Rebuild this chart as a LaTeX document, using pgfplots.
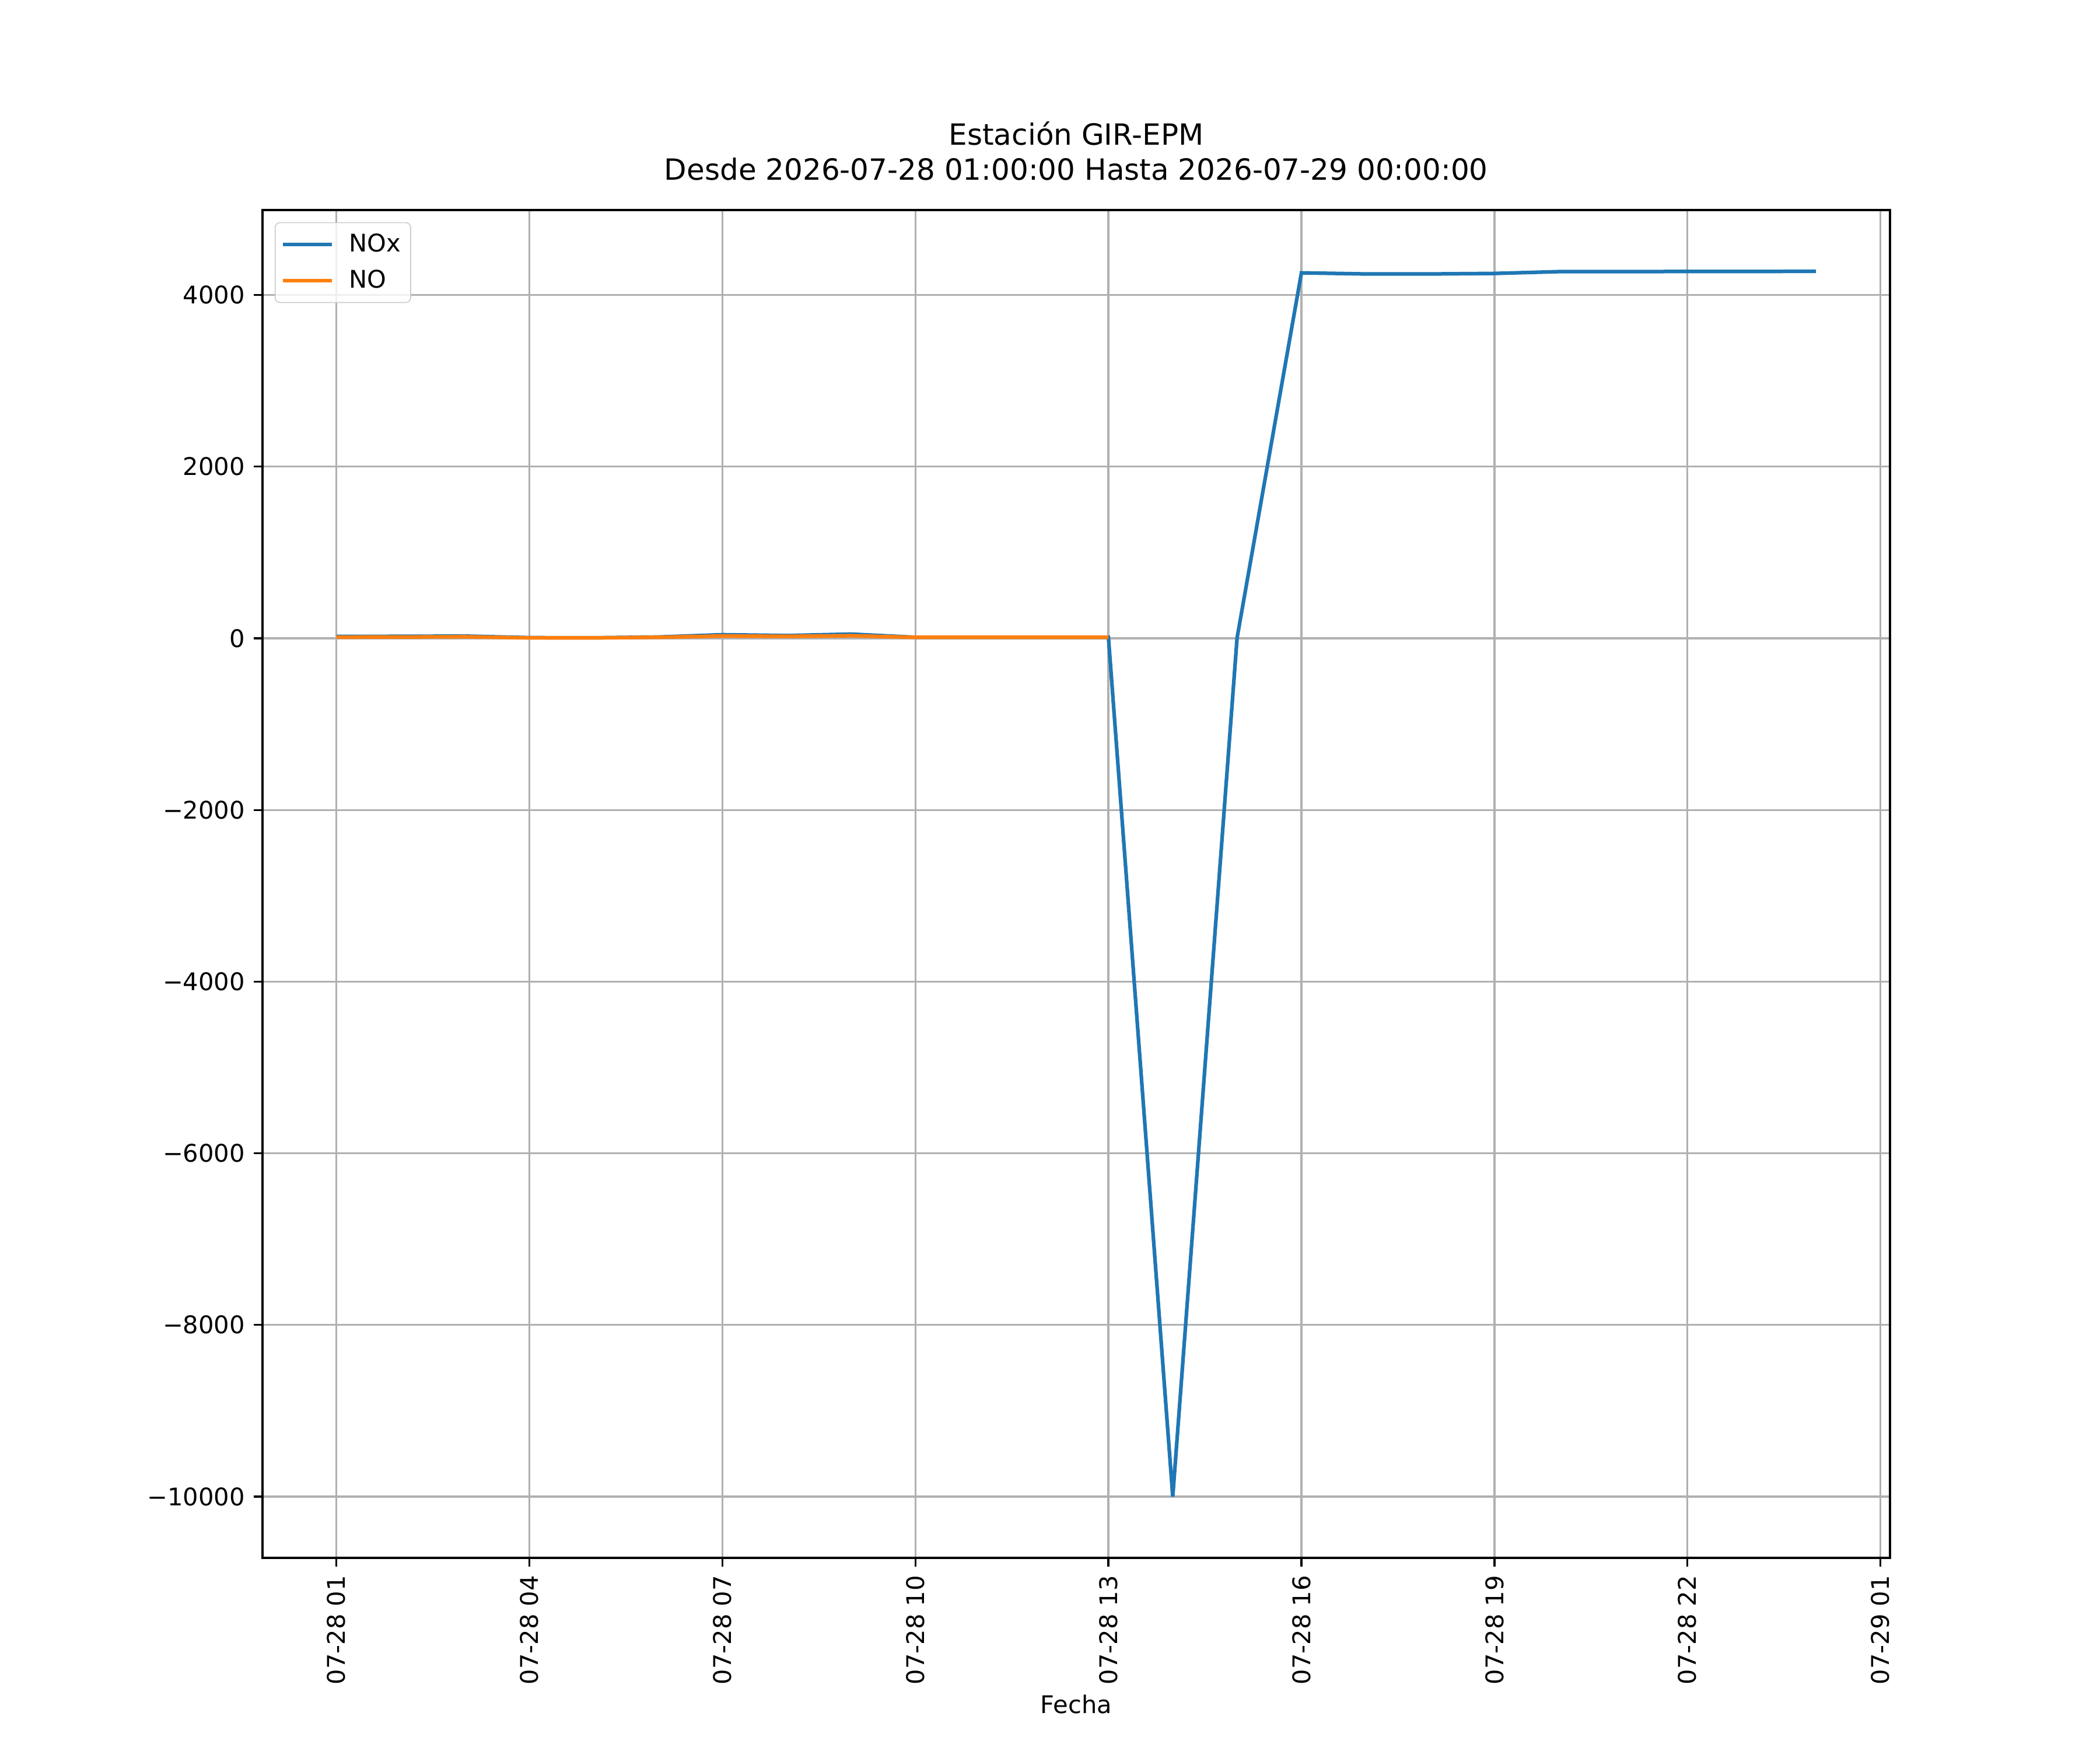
\documentclass[border=0pt]{standalone}
\usepackage{fontspec}
\setmainfont{DejaVu Sans}
\usepackage{pgfplots}
\pgfplotsset{compat=1.18}
\definecolor{c1}{HTML}{1F77B4}
\definecolor{c2}{HTML}{FF7F0E}
\definecolor{gridc}{HTML}{B0B0B0}
\definecolor{legc}{HTML}{CCCCCC}
\begin{document}
\begin{tikzpicture}
\useasboundingbox (0,0) rectangle (864pt,720pt);
\begin{axis}[
  at={(108pt,79.2pt)}, anchor=south west,
  scale only axis, width=669.6pt, height=554.4pt,
  xmin=-1.15, xmax=24.15, ymin=-10713.8, ymax=4989.8,
  scaled y ticks=false, scaled x ticks=false,
  xtick={0,3,...,24},
  xticklabels={07-28 01,07-28 04,07-28 07,07-28 10,07-28 13,07-28 16,07-28 19,07-28 22,07-29 01},
  ytick={-10000,-8000,-6000,-4000,-2000,0,2000,4000},
  yticklabels={−10000,−8000,−6000,−4000,−2000,0,2000,4000},
  grid=major, major grid style={gridc, line width=0.8pt},
  axis line style={line width=0.8pt},
  tick align=outside, tick pos=left, major tick length=3.5pt,
  tick style={black, line width=0.8pt},
  ticklabel style={font=\fontsize{10}{12}\selectfont},
  xticklabel style={rotate=90, anchor=east, inner sep=0pt},
  yticklabel style={anchor=east, inner sep=0pt},
  xticklabel shift=3.5pt, yticklabel shift=3.5pt,
  title={Estación GIR-EPM\\Desde 2026-07-28 01:00:00 Hasta 2026-07-29 00:00:00},
  title style={align=center, font=\fontsize{12}{14.4}\selectfont, at={(0.5,1)}, anchor=south, yshift=6pt, inner sep=0pt},
  xlabel={Fecha},
  xlabel style={font=\fontsize{10}{12}\selectfont, inner sep=0pt, yshift=-4pt},
  legend style={at={(0,1)}, anchor=north west, xshift=5pt, yshift=-5pt,
    draw=legc, rounded corners=2pt, fill=white, fill opacity=0.8, text opacity=1,
    font=\fontsize{10}{12}\selectfont, inner xsep=2.5pt, inner ysep=3pt, row sep=3pt,
    column sep=5pt, nodes={inner sep=1.5pt}},
  legend cell align=left,
  legend image code/.code={\draw[#1, line width=1.5pt] (0pt,0pt) -- (20pt,0pt);},
]
\addplot[c1, line width=1.5pt] coordinates {
(0,22) (1,23) (2,26) (3,8) (4,6) (5,15) (6,42) (7,32) (8,49) (9,12) (10,11) (11,11) (12,11)
(13,-10000) (14,5)
(15,4258) (16,4245) (17,4245) (18,4251) (19,4272) (20,4272) (21,4274) (22,4274) (23,4276)
};
\addlegendentry{NOx}
\addplot[c2, line width=1.5pt] coordinates {
(0,14) (1,15) (2,18) (3,5) (4,5) (5,12) (6,27) (7,23) (8,30) (9,11) (10,11) (11,11) (12,11)
};
\addlegendentry{NO}
\end{axis}
\end{tikzpicture}
\end{document}
